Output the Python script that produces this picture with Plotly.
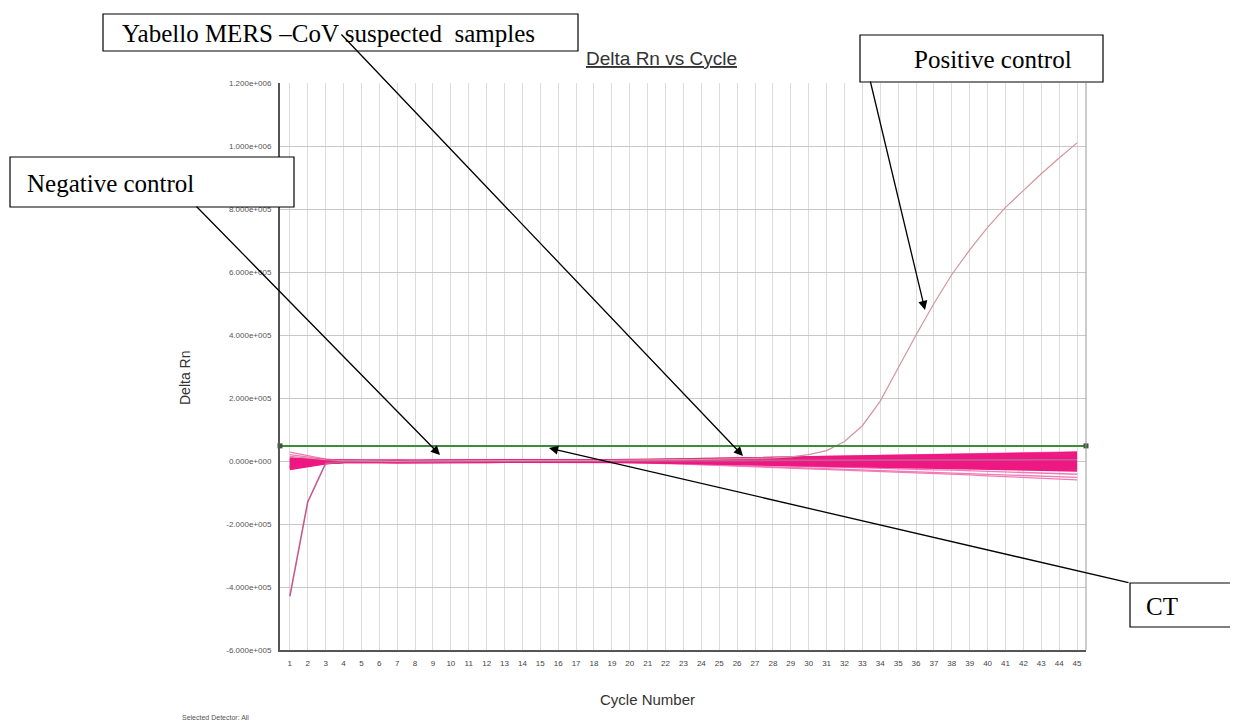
import plotly.graph_objects as go

# ---------------- data (Delta Rn, values in thousands) ----------------
cycles = list(range(1, 46))

samples_core = [
    [8,5,2,1, 1,1,0,0,1,1,0,0,1,1,0,1,1,1,
     2,3,3,4,5,6,7,8,8,9,10,11,12,13,14,15,16,17,18,18,19,20,21,22,23,24,25],
    [5,3,1,1, 0,1,0,-1,0,1,0,0,0,1,0,0,1,1,
     1,2,2,3,4,4,5,6,6,7,8,8,9,10,10,11,12,12,13,14,14,15,16,16,17,17,18],
    [2,1,0,0, 0,0,-1,-1,0,0,-1,0,0,0,0,0,0,1,
     1,1,1,2,2,3,3,4,4,4,5,5,6,6,7,7,8,8,8,9,9,10,10,11,11,12,12],
    [-2,-1,0,0, 0,-1,-1,-2,-1,0,-1,-1,0,0,0,-1,0,0,
     0,0,1,1,1,1,2,2,2,2,3,3,3,3,4,4,4,4,4,5,5,5,5,6,6,6,6],
    [-6,-4,-2,-1, -1,-1,-2,-2,-1,-1,-2,-1,-1,0,0,-1,0,0,
     0,0,0,0,0,1,1,1,1,1,1,1,1,1,1,2,2,2,2,2,2,2,2,2,2,2,2],
    [-10,-6,-3,-1, -1,-2,-2,-3,-2,-1,-2,-2,-1,-1,-1,-1,0,0,
     0,0,0,0,-1,-1,-1,-1,-1,-1,-1,-1,-2,-2,-2,-2,-2,-2,-2,-2,-2,-3,-3,-3,-3,-3,-3],
    [-14,-9,-4,-2, -1,-2,-3,-3,-2,-2,-3,-2,-1,-1,-1,-1,-1,0,
     0,-1,-1,-1,-2,-2,-2,-3,-3,-3,-3,-4,-4,-4,-5,-5,-5,-5,-6,-6,-6,-7,-7,-7,-7,-8,-8],
    [-18,-11,-5,-2, -2,-3,-4,-3,-2,-2,-3,-3,-2,-1,-1,-1,-1,-1,
     -1,-1,-2,-2,-3,-3,-4,-4,-5,-5,-6,-6,-7,-7,-8,-8,-9,-9,-10,-10,-11,-11,-12,-12,-12,-13,-13],
    [-22,-13,-6,-3, -2,-3,-4,-4,-3,-2,-3,-3,-2,-2,-1,-1,-1,-1,
     -1,-2,-2,-3,-4,-4,-5,-6,-6,-7,-8,-8,-9,-10,-10,-11,-12,-12,-13,-14,-14,-15,-16,-16,-17,-17,-18],
    [-25,-15,-7,-3, -3,-4,-5,-4,-3,-3,-4,-3,-2,-2,-2,-1,-1,-1,
     -2,-2,-3,-4,-5,-6,-7,-8,-8,-9,-10,-11,-12,-13,-14,-15,-16,-16,-17,-18,-19,-20,-21,-22,-22,-23,-24],
    [-20,-12,-5,-2, -2,-3,-4,-4,-3,-2,-3,-3,-2,-2,-1,-1,-1,-2,
     -2,-3,-4,-5,-6,-7,-8,-9,-10,-11,-12,-13,-14,-16,-17,-18,-19,-20,-21,-22,-24,-25,-26,-27,-28,-29,-30],
]

samples_light = [
    [-12,-7,-3,-1, -1,-2,-3,-2,-2,-1,-2,-2,-1,-1,-1,-1,-1,-1,
     -2,-3,-4,-6,-7,-8,-10,-11,-13,-14,-16,-17,-19,-20,-22,-23,-25,-26,-28,-29,-31,-33,-35,-37,-39,-40,-42],
    [0,0,0,0, 0,-1,-2,-2,-1,-1,-2,-1,-1,-1,-1,-1,-1,-2,
     -2,-3,-5,-6,-8,-10,-12,-13,-15,-17,-19,-21,-23,-25,-27,-29,-31,-33,-35,-37,-39,-41,-43,-45,-47,-50,-52],
    [28,16,6,2, 1,0,-1,-1,0,0,-1,-1,0,0,0,-1,-1,-2,
     -3,-4,-6,-8,-10,-12,-14,-16,-18,-20,-22,-24,-26,-28,-31,-33,-35,-37,-40,-42,-44,-47,-50,-52,-55,-57,-60],
    [20,12,5,2, 1,1,0,0,1,1,0,0,1,1,1,1,1,2,
     2,3,4,5,6,6,7,8,9,10,11,12,13,14,15,16,17,18,19,20,22,23,24,26,27,28,30],
]

negative_control = [-430,-130,-8,-2, -1,-2,-3,-2,-2,-1,-2,-1,-1,-1,0,0,0,0,
                    0,0,0,1,1,1,1,1,2,2,2,2,2,2,3,3,3,3,3,3,4,4,4,4,4,4,4]

positive_control = [15,9,4,1, 0,0,-1,0,0,0,0,0,1,1,1,1,2,2,
                    2,3,3,4,5,5,6,7,8,10,13,20,33,62,112,190,295,400,500,592,
                    670,742,805,860,912,962,1010]

threshold = 48  # thousands

y_tick_vals = [1.2e6, 1.0e6, 8e5, 6e5, 4e5, 2e5, 0, -2e5, -4e5, -6e5]
y_tick_text = ["1.200e+006", "1.000e+006", "8.000e+005", "6.000e+005", "4.000e+005",
               "2.000e+005", "0.000e+000", "-2.000e+005", "-4.000e+005", "-6.000e+005"]
x_range = [0.45, 45.5]
y_range = [-6e5, 1.2e6]

K = 1000.0
def scale(v):
    return [a * K for a in v]

# ---------------- figure ----------------
fig = go.Figure()

for s in samples_light:
    fig.add_trace(go.Scatter(x=cycles, y=scale(s), mode="lines",
                             line=dict(color="#f27ab8", width=1.3), showlegend=False, hoverinfo="skip"))
for s in samples_core:
    fig.add_trace(go.Scatter(x=cycles, y=scale(s), mode="lines",
                             line=dict(color="#ee1883", width=2.6), showlegend=False, hoverinfo="skip"))

fig.add_trace(go.Scatter(x=cycles, y=scale(negative_control), mode="lines",
                         line=dict(color="#c45b92", width=1.6), showlegend=False))
fig.add_trace(go.Scatter(x=cycles, y=scale(positive_control), mode="lines",
                         line=dict(color="#d3949f", width=1.2), showlegend=False))
fig.add_trace(go.Scatter(x=x_range, y=[threshold * K] * 2, mode="lines+markers",
                         line=dict(color="#3c8c3c", width=2),
                         marker=dict(color="#3a5a3a", size=5, symbol="square"),
                         showlegend=False, cliponaxis=False))

# page layout in pixels (the page body adds an 8 px offset)
OFF = 8
PW, PH = 1238, 727
W, H = PW - OFF, PH - OFF
L, R, T, B = 280 - OFF, 1086 - OFF, 83 - OFF, 650 - OFF
def px(x):
    return (x - OFF - L) / (R - L)
def py(y):
    return (B - (y - OFF)) / (B - T)

fig.update_layout(
    width=W, height=H,
    margin=dict(l=L, r=W - R, t=T, b=H - B),
    paper_bgcolor="white", plot_bgcolor="white",
    font=dict(family="Arial, Liberation Sans, sans-serif"),
    xaxis=dict(range=x_range, tickmode="array", tickvals=cycles,
               ticktext=[str(c) for c in cycles],
               tickfont=dict(size=8, color="#444"), ticklabelstandoff=4,
               showgrid=True, gridcolor="#dcdcdc", gridwidth=1,
               showline=True, linecolor="#555", linewidth=2,
               zeroline=False, ticks="", ticklen=0),
    yaxis=dict(range=y_range, tickmode="array", tickvals=y_tick_vals, ticktext=y_tick_text,
               tickfont=dict(size=8, color="#555"), ticklabelstandoff=5,
               showgrid=True, gridcolor="#c8c8c8", gridwidth=1,
               showline=True, linecolor="#555", linewidth=2,
               zeroline=False, ticks="", ticklen=0),
)

# right border
fig.add_shape(type="line", xref="paper", yref="paper", x0=1, x1=1, y0=0, y1=1,
              line=dict(color="#999", width=1))

# titles
fig.add_annotation(text="<u>Delta Rn vs Cycle</u>", xref="paper", yref="paper",
                   x=px(661), y=py(58), xanchor="center", yanchor="middle", showarrow=False,
                   font=dict(size=19, color="#333"))
fig.add_annotation(text="Delta Rn", xref="paper", yref="paper", x=px(185), y=py(378),
                   xanchor="center", yanchor="middle",
                   showarrow=False, textangle=-90, font=dict(size=14, color="#333"))
fig.add_annotation(text="Cycle Number", xref="paper", yref="paper", x=px(647), y=py(699),
                   xanchor="center", yanchor="middle",
                   showarrow=False, font=dict(size=15, color="#333"))
fig.add_annotation(text="Selected Detector: All", xref="paper", yref="paper",
                   x=px(180), y=py(717), xanchor="left", yanchor="middle", showarrow=False,
                   font=dict(size=7, color="#555"))

# labelled boxes
serif = "Liberation Serif, Times New Roman, serif"
boxes = [
    ("Yabello MERS –CoV suspected  samples", 103, 14, 578, 51, 120, 25),
    ("Negative control", 10, 157, 294, 207, 25, 25),
    ("Positive control", 860, 35, 1103, 82, 912, 25),
    ("CT", 1130, 583, 1237, 627, 1144, 25),
]
for text, x0, y0, x1, y1, tx, fs in boxes:
    fig.add_shape(type="rect", xref="paper", yref="paper",
                  x0=px(x0), x1=px(x1), y0=py(y0), y1=py(y1),
                  line=dict(color="black", width=1.2), fillcolor="white", layer="above")
    fig.add_annotation(text=text, xref="paper", yref="paper", x=px(tx), y=py((y0 + y1) / 2 + 1),
                       xanchor="left", yanchor="middle", showarrow=False,
                       font=dict(family=serif, size=fs, color="black"))

# arrows (start pixel -> tip pixel)
arrows = [
    ((195, 205), (440, 455)),
    ((340, 33), (743, 456)),
    ((870, 80), (925, 310)),
    ((1130, 583), (549, 448)),
]
for (sx, sy), (tx, ty) in arrows:
    fig.add_annotation(text="", xref="paper", yref="paper", x=px(tx), y=py(ty),
                       axref="pixel", ayref="pixel", ax=sx - tx, ay=sy - ty,
                       showarrow=True, arrowhead=2, arrowsize=1.4, arrowwidth=1.3,
                       arrowcolor="black", standoff=0, startstandoff=0)

fig.write_html("out.html")
